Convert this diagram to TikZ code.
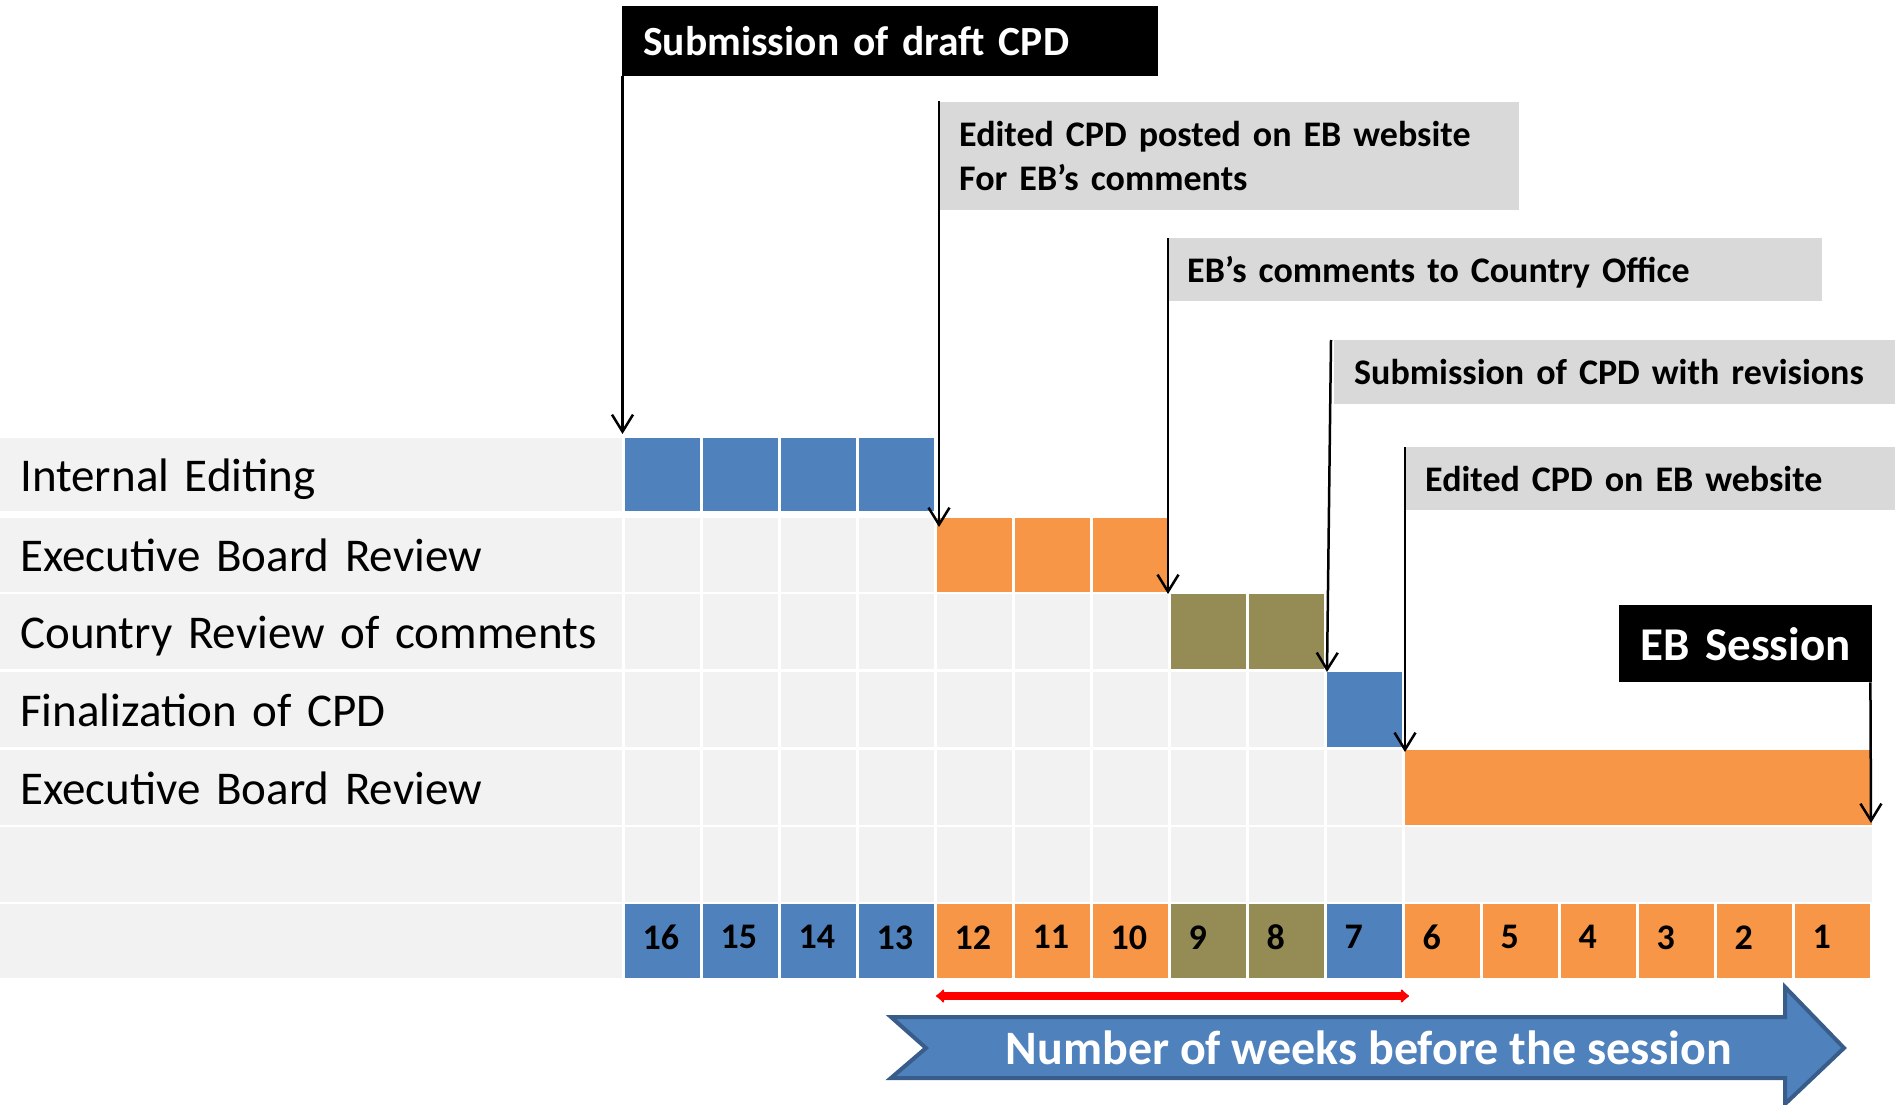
\documentclass[tikz,border=0pt]{standalone}
\usepackage{fontspec}
\setmainfont{Carlito}
\usetikzlibrary{arrows.meta}
\definecolor{cblue}{HTML}{4F81BD}
\definecolor{corange}{HTML}{F79646}
\definecolor{colive}{HTML}{958B55}
\definecolor{cgrey}{HTML}{F2F2F2}
\definecolor{cgreyb}{HTML}{D9D9D9}
\definecolor{cborder}{HTML}{385D8A}
\hyphenpenalty=10000
\exhyphenpenalty=10000
\begin{document}
\begin{tikzpicture}[x=1pt,y=-1pt,
  rowlabel/.style={anchor=north west, fill=cgrey, inner xsep=20pt, inner ysep=0pt,
    text width=581.5pt, align=left, text height=34pt, text depth=0pt,
    font=\fontsize{47}{56}\selectfont},
  numcell/.style={anchor=north west, inner xsep=18pt, inner ysep=0pt, text width=39.5pt,
    minimum height=74pt, text depth=8pt, align=left, font=\bfseries\fontsize{36}{42}\selectfont},
  callout/.style={anchor=north west, fill=cgreyb, inner xsep=20pt, inner ysep=0pt,
    align=left, font=\bfseries\fontsize{36}{44}\selectfont},
  blackbox/.style={anchor=north west, fill=black, text=white, inner xsep=21pt, inner ysep=0pt,
    align=left},
  conn/.style={draw=black, line width=2.5pt, -{Straight Barb[length=17pt,width=21pt,line width=2.5pt]}},
]
\useasboundingbox (0,0) rectangle (1895,1105);

% row labels
\node[rowlabel, minimum height=72.5pt] (l1) at (0,438) {Internal Editing};
\node[rowlabel, minimum height=73.5pt] (l2) at (0,518) {Executive Board Review};
\node[rowlabel, minimum height=74.5pt] (l3) at (0,594) {Country Review of comments};
\node[rowlabel, minimum height=75pt] (l4) at (0,671.5) {Finalization of CPD};
\node[rowlabel, minimum height=75pt] (l5) at (0,749.5) {Executive Board Review};
\node[rowlabel, minimum height=74.5pt] (l6) at (0,827) {};
\node[rowlabel, minimum height=74pt] (l7) at (0,904) {};

% row 1
\foreach \k in {1,...,4} \fill[cblue] ({624.5+(\k-1)*78},438) rectangle ++(75.5,72.5);
% row 2
\foreach \k in {1,...,4} \fill[cgrey] ({624.5+(\k-1)*78},518) rectangle ++(75.5,73.5);
\foreach \k in {5,...,7} \fill[corange] ({624.5+(\k-1)*78},518) rectangle ++(75.5,73.5);
% row 3
\foreach \k in {1,...,7} \fill[cgrey] ({624.5+(\k-1)*78},594) rectangle ++(75.5,74.5);
\foreach \k in {8,9} \fill[colive] ({624.5+(\k-1)*78},594) rectangle ++(75.5,74.5);
% row 4
\foreach \k in {1,...,9} \fill[cgrey] ({624.5+(\k-1)*78},671.5) rectangle ++(75.5,75);
\fill[cblue] (1326.5,671.5) rectangle ++(75.5,75);
% row 5
\foreach \k in {1,...,10} \fill[cgrey] ({624.5+(\k-1)*78},749.5) rectangle ++(75.5,75);
\fill[corange] (1404.5,749.5) rectangle (1872,824.5);
% row 6
\foreach \k in {1,...,10} \fill[cgrey] ({624.5+(\k-1)*78},827) rectangle ++(75.5,74.5);
\fill[cgrey] (1404.5,827) rectangle (1872,901.5);

% number row
\foreach \k/\c in {1/cblue,2/cblue,3/cblue,4/cblue,5/corange,6/corange,7/corange,8/colive,
  9/colive,10/cblue,11/corange,12/corange,13/corange,14/corange,15/corange,16/corange}{
  \pgfmathtruncatemacro{\wk}{17-\k}
  \node[numcell, fill=\c] (n\k) at ({624.5+(\k-1)*78},904) {\wk};
}

% callouts
\node[blackbox, text width=494pt, minimum height=70pt, font=\bfseries\fontsize{41.5}{50}\selectfont] (b1) at (622,6) {Submission of draft CPD};
\node[callout, text width=540pt, minimum height=108.5pt] (b2) at (939,101.5) {Edited CPD posted on EB website\\For EB’s comments};
\node[callout, text width=615pt, minimum height=63pt, text height=26pt, text depth=0pt] (b3) at (1167,238) {EB’s comments to Country Office};
\node[callout, text width=521pt, minimum height=64pt] (b4) at (1334,340) {Submission of CPD with revisions};
\node[callout, text width=450pt, minimum height=63pt, text height=26pt, text depth=0pt] (b5) at (1405,447) {Edited CPD on EB website};
\node[blackbox, text width=211pt, minimum height=77pt, font=\bfseries\fontsize{47}{56}\selectfont] (b6) at (1619,605) {EB Session};

% connectors
\coordinate (t1) at (622.5,434);
\coordinate (t2) at (939,527);
\coordinate (t3) at (1168,594);
\coordinate (t4) at (1327,672);
\coordinate (t5) at (1405,752);
\coordinate (t6) at (1871,823);
\draw[conn] ([xshift=0.5pt]b1.south west) -- (t1);
\draw[conn] (b2.north west) -- (t2);
\draw[conn] ([xshift=1pt]b3.north west) -- (t3);
\draw[conn] ([xshift=-3pt]b4.north west) -- (t4);
\draw[conn] (b5.north west) -- (t5);
\draw[conn] ([xshift=-2pt]b6.south east) -- (t6);

% red range arrow
\coordinate (ra) at (936,996);
\coordinate (rb) at (1409,996);
\draw[red, line width=8pt, {Latex[length=9pt,width=17pt,round]}-{Latex[length=9pt,width=17pt,round]}] (ra) -- (rb);

% big arrow
\filldraw[fill=cblue, draw=cborder, line width=4pt, line join=miter]
  (891,1017) -- (1785,1017) -- (1785,987) -- (1844,1048) -- (1785,1104) -- (1785,1078)
  -- (891,1078) -- (926,1048) -- cycle;
\node[text=white, font=\bfseries\fontsize{48}{56}\selectfont, inner sep=0pt] (wk) at (1369,1048) {Number of weeks before the session};
\end{tikzpicture}
\end{document}
